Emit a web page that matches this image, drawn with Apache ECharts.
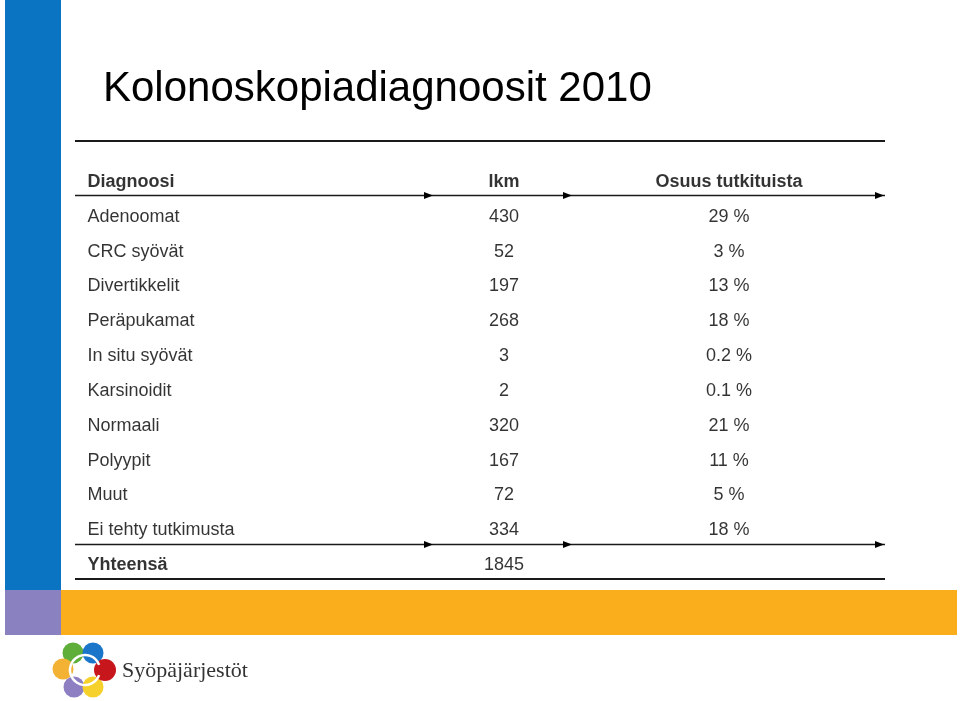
<!DOCTYPE html>
<html>
<head>
<meta charset="utf-8">
<script src="https://cdn.jsdelivr.net/npm/echarts@6/dist/echarts.min.js"></script>
<style>
html,body{margin:0;padding:0;background:#fff;}
#main{width:960px;height:701px;}
</style>
</head>
<body>
<div id="main"></div>
<script>
// ---- data ----
const titleText = 'Kolonoskopiadiagnoosit 2010';
const headers = ['Diagnoosi', 'lkm', 'Osuus tutkituista'];
const categories = ['Adenoomat', 'CRC syövät', 'Divertikkelit', 'Peräpukamat', 'In situ syövät',
  'Karsinoidit', 'Normaali', 'Polyypit', 'Muut', 'Ei tehty tutkimusta'];
const counts = [430, 52, 197, 268, 3, 2, 320, 167, 72, 334];
const shares = [29, 3, 13, 18, 0.2, 0.1, 21, 11, 5, 18];
const totalLabel = 'Yhteensä';
const totalCount = 1845;
const logoText = 'Syöpäjärjestöt';

// ---- layout ----
const FONT = "'Liberation Sans', Arial, Helvetica, sans-serif";
const COL_X = [12, 429, 654]; // positions on the hidden x scale (0..810)
const rows = [headers[0], ...categories, totalLabel];

const chart = echarts.init(document.getElementById('main'), null, {renderer: 'canvas'});

function cell(x, row, text, bold) {
  return {value: [x, row], text: String(text), label: {fontWeight: bold ? 'bold' : 'normal', color: '#000'}};
}

const col1 = rows.map((r, i) => cell(COL_X[0], r, r, i === 0 || i === rows.length - 1));
const col2 = [cell(COL_X[1], headers[0], headers[1], true)]
  .concat(categories.map((c, i) => cell(COL_X[1], c, counts[i], false)))
  .concat([cell(COL_X[1], totalLabel, totalCount, false)]);
const col3 = [cell(COL_X[2], headers[0], headers[2], true)]
  .concat(categories.map((c, i) => cell(COL_X[2], c, shares[i] + ' %', false)));

const baseLabel = {show: true, color: '#000', fontSize: 18, fontFamily: FONT,
  textBorderWidth: 0, formatter: p => p.data.text};

function arrowLine(y, w) {
  const els = [{type: 'line', shape: {x1: 75, y1: y, x2: 885, y2: y},
    style: {stroke: '#1a1a1a', lineWidth: w}}];
  [433, 572, 884].forEach(x => {
    els.push({type: 'polygon', shape: {points: [[x - 9, y - 3.5], [x, y], [x - 9, y + 3.5]]},
      style: {fill: '#000'}});
  });
  return els;
}

const logoCircles = [
  {cx: 73, cy: 653, r: 10.5, c: '#5fae3a'},
  {cx: 93, cy: 653, r: 10.5, c: '#1b75c9'},
  {cx: 63, cy: 669, r: 10.5, c: '#f4b234'},
  {cx: 74, cy: 687, r: 10.5, c: '#8e7fc2'},
  {cx: 93, cy: 687, r: 10.5, c: '#f6d12c'},
  {cx: 105, cy: 670, r: 11, c: '#c8161d'}
];

const graphics = [
  {type: 'rect', shape: {x: 5, y: 0, width: 56, height: 590}, style: {fill: '#0a74c2'}},
  {type: 'rect', shape: {x: 5, y: 590, width: 56, height: 45}, style: {fill: '#8a82c0'}},
  {type: 'rect', shape: {x: 61, y: 590, width: 896, height: 45}, style: {fill: '#fbae1c'}},
  {type: 'text', x: 103, y: 89, style: {text: titleText, font: '42px ' + FONT, fill: '#000',
    verticalAlign: 'middle', align: 'left'}},
  {type: 'line', shape: {x1: 75, y1: 141, x2: 885, y2: 141}, style: {stroke: '#1a1a1a', lineWidth: 2}},
  ...arrowLine(195.5, 1.5),
  ...arrowLine(544.5, 1.5),
  {type: 'line', shape: {x1: 75, y1: 579, x2: 885, y2: 579}, style: {stroke: '#1a1a1a', lineWidth: 2}},
  ...logoCircles.map(o => ({type: 'circle', shape: {cx: o.cx, cy: o.cy, r: o.r}, style: {fill: o.c}})),
  {type: 'arc', shape: {cx: 85, cy: 670, r: 15, startAngle: 0.35, endAngle: Math.PI * 2 - 0.35},
    style: {fill: 'none', stroke: '#fff', lineWidth: 2.5}},
  {type: 'text', x: 122, y: 671, style: {text: logoText, font: '22px "Liberation Serif", "DejaVu Serif", serif',
    fill: '#333', verticalAlign: 'middle', align: 'left'}}
];

chart.setOption({
  animation: false,
  backgroundColor: '#fff',
  grid: {left: 75, width: 810, top: 164.6, height: 417.8},
  xAxis: {type: 'value', min: 0, max: 810, show: false},
  yAxis: {type: 'category', data: rows, inverse: true, show: false},
  graphic: graphics,
  series: [
    {type: 'scatter', data: col1, symbolSize: 1, itemStyle: {color: 'transparent'},
      label: Object.assign({}, baseLabel, {position: 'right', distance: 0, align: 'left'})},
    {type: 'scatter', data: col2, symbolSize: 1, itemStyle: {color: 'transparent'},
      label: Object.assign({}, baseLabel, {position: 'inside'})},
    {type: 'scatter', data: col3, symbolSize: 1, itemStyle: {color: 'transparent'},
      label: Object.assign({}, baseLabel, {position: 'inside'})}
  ]
});
</script>
</body>
</html>
